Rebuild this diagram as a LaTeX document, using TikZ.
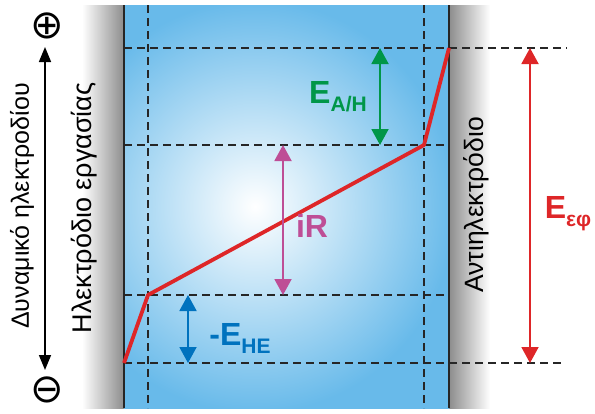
\documentclass[tikz,border=0pt]{standalone}
\usepackage{fontspec}
\setmainfont{Liberation Sans}
\newfontfamily\grfont{Open Sans}
\newfontfamily\symfont{DejaVu Sans}
\usetikzlibrary{arrows.meta}
\definecolor{elblue}{RGB}{104,186,234}
\definecolor{potred}{RGB}{222,38,40}
\definecolor{ahgreen}{RGB}{0,150,72}
\definecolor{irpink}{RGB}{190,78,150}
\definecolor{heblue}{RGB}{0,114,190}

\begin{document}
\begin{tikzpicture}[x=1pt,y=-1pt,
    level/.style={line width=2.1pt,dash pattern=on 8pt off 5pt,black!85},
    dim/.style={line width=1.9pt,{Triangle[width=17pt,length=16pt]}-{Triangle[width=17pt,length=16pt]}},
    lbl/.style={font=\fontsize{32}{32}\selectfont\bfseries},
    rot/.style={rotate=90,font=\grfont}]
    \useasboundingbox (0,0) rectangle (595,413);
    % ηλεκτρόδια και διάλυμα
    \shade[left color=white,right color=black!45] (82,5) rectangle (124,408);
    \shade[left color=black!45,right color=white] (449,5) rectangle (490,408);
    \begin{scope}
      \clip (124,5) rectangle (449,408);
      \shade[inner color=white,outer color=elblue] (55,0) rectangle (455,413);
    \end{scope}
    \draw[line width=2.8pt,black!85] (124,5) -- (124,408);
    \draw[line width=2.8pt,black!85] (449,5) -- (449,408);
    % στάθμες δυναμικού
    \foreach \x in {148,424}
      \draw[level] (\x,5) -- (\x,408);
    \foreach \y in {145,295}
      \draw[level] (124,\y) -- (449,\y);
    \draw[level] (124,48) -- (567,48);
    \draw[level] (124,363) -- (565,363);
    % κατανομή δυναμικού
    \coordinate (p0) at (124,363);
    \coordinate (p1) at (148,295);
    \coordinate (p2) at (424,145);
    \coordinate (p3) at (449,48);
    \draw[potred,line width=3.8pt,line join=round] (p0) -- (p1) -- (p2) -- (p3);
    % βέλη
    \coordinate (ah1) at (380,48);  \coordinate (ah2) at (380,145);
    \coordinate (ir1) at (283,145); \coordinate (ir2) at (283,295);
    \coordinate (he1) at (188,295); \coordinate (he2) at (188,363);
    \coordinate (ef1) at (530,48);  \coordinate (ef2) at (530,363);
    \draw[dim,ahgreen] (ah1) -- (ah2);
    \draw[dim,irpink] (ir1) -- (ir2);
    \draw[dim,heblue] (he1) -- (he2);
    \draw[dim,potred] (ef1) -- (ef2);
    \node[lbl,ahgreen] (eah) at (338,97) {E\raisebox{-8pt}{\fontsize{21}{21}\selectfont A/H}};
    \node[lbl,irpink] (eir) at (312,226) {iR};
    \node[lbl,heblue] (ehe) at (240,338) {-E\raisebox{-8pt}{\fontsize{21}{21}\selectfont HE}};
    \node[lbl,potred] (eef) at (568,214) {E\raisebox{-8pt}{\fontsize{21}{21}\selectfont εφ}};
    % άξονας δυναμικού
    \node[font=\fontsize{40}{40}\selectfont\symfont,inner sep=0pt] (plus) at (47,26) {⊕};
    \node[font=\fontsize{40}{40}\selectfont\symfont,inner sep=0pt] (minus) at (47,390) {⊖};
    \coordinate (v1) at (45,47);
    \coordinate (v2) at (45,370);
    \draw[line width=1.6pt,{Triangle[width=12pt,length=15pt]}-{Triangle[width=12pt,length=15pt]}] (v1) -- (v2);
    \node[rot,font=\fontsize{25}{25}\selectfont] (axis) at (22,206) {Δυναμικό ηλεκτροδίου};
    \node[rot,font=\fontsize{27}{27}\selectfont] (we) at (84,208) {Ηλεκτρόδιο εργασίας};
    \node[rot,font=\fontsize{26.5}{26.5}\selectfont] (ce) at (476,205) {Αντιηλεκτρόδιο};
\end{tikzpicture}
\end{document}
